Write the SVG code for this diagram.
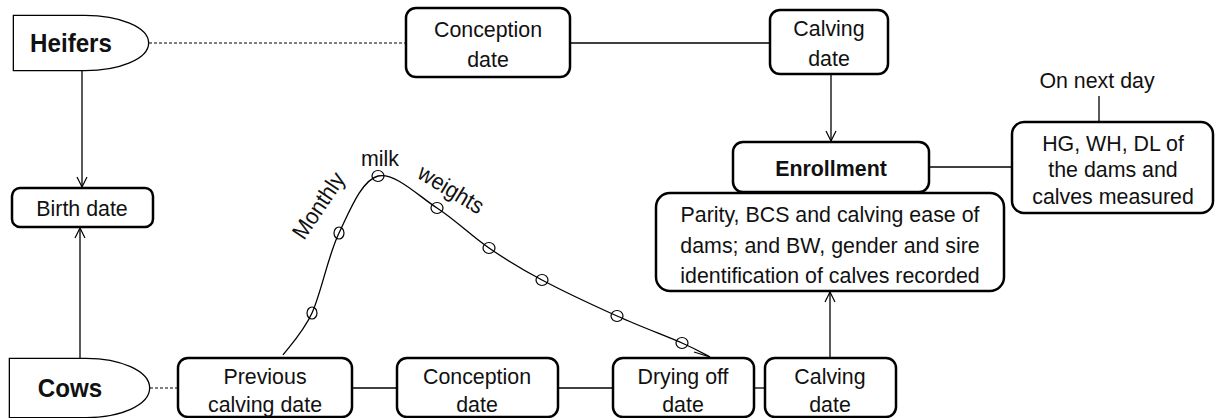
<svg xmlns="http://www.w3.org/2000/svg" width="1215" height="418" viewBox="0 0 1215 418">
<style>
.box{fill:#fff;stroke:#000;stroke-width:2.5}
.t{font-family:"Liberation Sans",Arial,sans-serif;font-size:23px;fill:#111;text-anchor:middle}
.b{font-family:"Liberation Sans",Arial,sans-serif;font-weight:bold;fill:#111;text-anchor:middle}
.ln{fill:none;stroke:#000;stroke-width:1.3}
.dash{fill:none;stroke:#000;stroke-width:1.2;stroke-dasharray:3 2}
.dot{fill:none;stroke:#000;stroke-width:1.2}
.outer{fill:#fff;stroke:#000;stroke-width:4.6}
.inner{fill:#fff;stroke:#fff;stroke-width:2}
</style>
<defs>
<marker id="arr" markerWidth="14" markerHeight="14" refX="11" refY="6" orient="auto" markerUnits="userSpaceOnUse">
<path d="M1,1 L11,6 L1,11" fill="none" stroke="#000" stroke-width="1.2"/>
</marker>
</defs>
<rect width="1215" height="418" fill="#fff"/>

<g id="connectors">
<line class="dash" x1="149" y1="43" x2="406" y2="43"/>
<line class="ln" x1="570" y1="43" x2="770" y2="43"/>
<line class="ln" x1="831" y1="74" x2="831" y2="141" marker-end="url(#arr)"/>
<line class="ln" x1="929" y1="167" x2="1012" y2="167"/>
<line class="ln" x1="1099" y1="96" x2="1099" y2="122"/>
<line class="ln" x1="830" y1="358" x2="830" y2="292" marker-end="url(#arr)"/>
<line class="ln" x1="82" y1="70" x2="82" y2="187" marker-end="url(#arr)"/>
<line class="ln" x1="80" y1="358" x2="80" y2="228" marker-end="url(#arr)"/>
<line class="dash" x1="150" y1="388" x2="178" y2="388"/>
<line class="ln" x1="352" y1="388" x2="397" y2="388"/>
<line class="ln" x1="558" y1="388" x2="613" y2="388"/>
<line class="ln" x1="754" y1="388" x2="765" y2="388"/>
</g>

<g id="lactation-curve">
<path class="ln" d="M283,355 C287.8,348 302.7,333.3 312,313 C321.3,292.7 328,255.8 339,233 C350,210.2 361.7,180.2 378,176 C394.3,171.8 418.5,196 437,208 C455.5,220 471.5,236 489,248 C506.5,260 520.7,268.7 542,280 C563.3,291.3 593.7,305.5 617,316 C640.3,326.5 666.5,336.2 682,343 C697.5,349.8 705.3,354.7 710,357"/>
<path class="ln" d="M694,352 L710,357"/>
<ellipse class="dot" cx="312" cy="313" rx="5" ry="6"/>
<ellipse class="dot" cx="339" cy="233" rx="5" ry="6"/>
<ellipse class="dot" cx="378" cy="176" rx="6" ry="5.5"/>
<ellipse class="dot" cx="437" cy="208" rx="6" ry="5.5"/>
<ellipse class="dot" cx="489" cy="248" rx="6" ry="5.5"/>
<ellipse class="dot" cx="542" cy="280" rx="6" ry="5.5"/>
<ellipse class="dot" cx="617" cy="316" rx="6" ry="5.5"/>
<ellipse class="dot" cx="682" cy="343" rx="6" ry="5.5"/>
<text class="t" transform="translate(325,210) rotate(-56) scale(.93,1)">Monthly</text>
<text class="t" transform="translate(380,166) scale(.93,1)">milk</text>
<text class="t" transform="translate(447,196) rotate(31) scale(.93,1)">weights</text>
</g>

<g id="heifers">
<path class="outer" d="M15,17 L85,17 A62,26 0 0 1 147,43 A62,26 0 0 1 85,69 L15,69 Z"/>
<path class="inner" d="M15,17 L85,17 A62,26 0 0 1 147,43 A62,26 0 0 1 85,69 L15,69 Z"/>
<text class="b" font-size="26" transform="translate(71,52) scale(.93,1)">Heifers</text>
</g>

<g id="cows">
<path class="outer" d="M11,360 L86,360 A62,28 0 0 1 148,388 A62,28 0 0 1 86,416 L11,416 Z"/>
<path class="inner" d="M11,360 L86,360 A62,28 0 0 1 148,388 A62,28 0 0 1 86,416 L11,416 Z"/>
<text class="b" font-size="26" transform="translate(70,397) scale(.93,1)">Cows</text>
</g>

<g id="conception-top">
<rect class="box" x="406" y="8" width="164" height="69" rx="10"/>
<text class="t" transform="translate(488,37) scale(.93,1)">Conception</text>
<text class="t" transform="translate(488,67) scale(.93,1)">date</text>
</g>

<g id="calving-top">
<rect class="box" x="770" y="10" width="118" height="64" rx="10"/>
<text class="t" transform="translate(829,36) scale(.93,1)">Calving</text>
<text class="t" transform="translate(829,66) scale(.93,1)">date</text>
</g>

<g id="enrollment">
<rect class="box" x="733" y="142" width="196" height="50" rx="10"/>
<text class="b" font-size="23" transform="translate(831,176) scale(.93,1)">Enrollment</text>
</g>

<g id="measured">
<rect class="box" x="1012" y="122" width="201" height="91" rx="12"/>
<text class="t" transform="translate(1113,151) scale(.93,1)">HG, WH, DL of</text>
<text class="t" transform="translate(1113,177) scale(.93,1)">the dams and</text>
<text class="t" transform="translate(1113,204) scale(.93,1)">calves measured</text>
</g>
<g id="next-day">
<text class="t" transform="translate(1097,88) scale(.93,1)">On next day</text>
</g>

<g id="recorded">
<rect class="box" x="656" y="193" width="348" height="98" rx="14"/>
<text class="t" transform="translate(830,222) scale(.93,1)">Parity, BCS and calving ease of</text>
<text class="t" transform="translate(830,253) scale(.93,1)">dams; and BW, gender and sire</text>
<text class="t" transform="translate(830,283) scale(.93,1)">identification of calves recorded</text>
</g>

<g id="birth-date">
<rect class="box" x="12" y="188" width="141" height="39" rx="8"/>
<text class="t" transform="translate(82,216) scale(.93,1)">Birth date</text>
</g>

<g id="previous-calving">
<rect class="box" x="178" y="358" width="174" height="59" rx="10"/>
<text class="t" transform="translate(265,384) scale(.93,1)">Previous</text>
<text class="t" transform="translate(265,412) scale(.93,1)">calving date</text>
</g>

<g id="conception-bottom">
<rect class="box" x="397" y="358" width="161" height="59" rx="10"/>
<text class="t" transform="translate(477,384) scale(.93,1)">Conception</text>
<text class="t" transform="translate(477,412) scale(.93,1)">date</text>
</g>

<g id="drying-off">
<rect class="box" x="613" y="358" width="141" height="59" rx="10"/>
<text class="t" transform="translate(683,384) scale(.93,1)">Drying off</text>
<text class="t" transform="translate(683,412) scale(.93,1)">date</text>
</g>

<g id="calving-bottom">
<rect class="box" x="765" y="358" width="131" height="59" rx="10"/>
<text class="t" transform="translate(830,384) scale(.93,1)">Calving</text>
<text class="t" transform="translate(830,412) scale(.93,1)">date</text>
</g>
</svg>
